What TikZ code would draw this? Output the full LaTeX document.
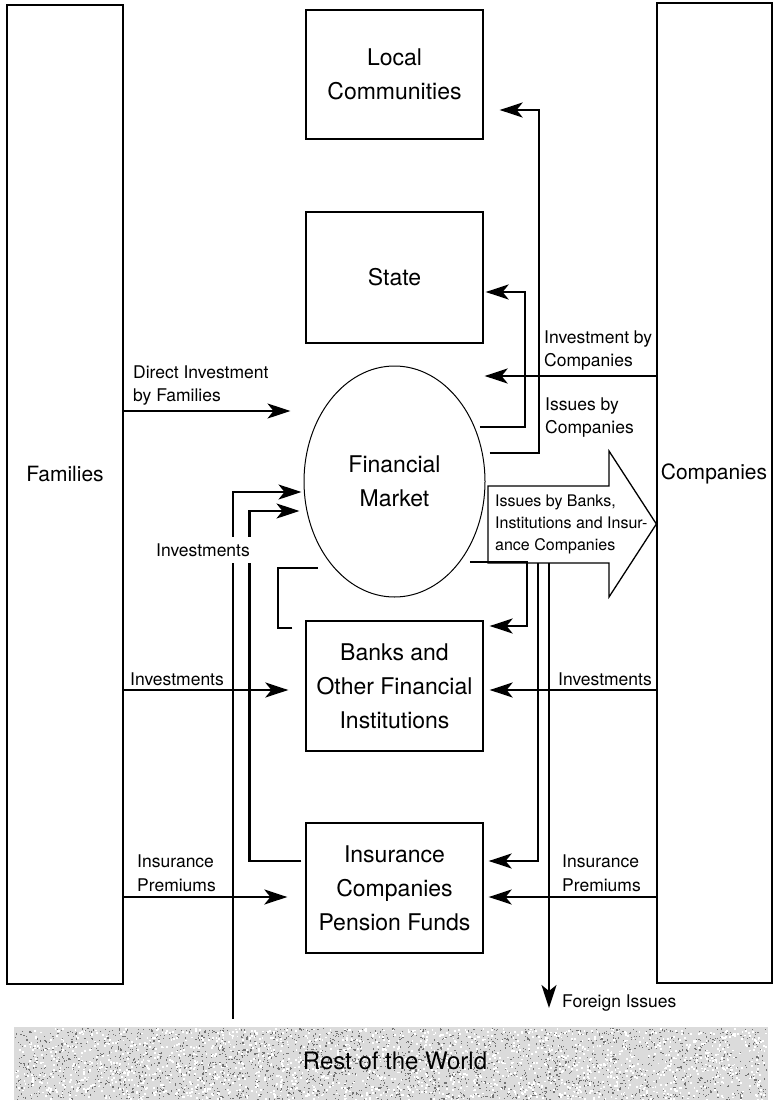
\documentclass[tikz,border=0pt]{standalone}
\usepackage{fontspec}
\setmainfont{TeX Gyre Heros}
\usetikzlibrary{arrows.meta,calc,shapes.geometric}
\newcommand\fBig{\fontsize{23}{34}\selectfont}
\newcommand\fSide{\fontsize{21}{25}\selectfont}
\newcommand\fSmall{\fontsize{17.5}{23.5}\selectfont}
\newcommand\fArr{\fontsize{16}{22}\selectfont}
\newcommand\fRow{\fontsize{24}{28}\selectfont}
\begin{document}
\begin{tikzpicture}[x=1pt,y=-1pt,
  box/.style={draw,line width=1.3pt,minimum width=177pt,minimum height=130pt,inner sep=0pt,align=center,font=\fBig},
  side/.style={draw,line width=1.3pt,inner sep=0pt},
  conn/.style={line width=2.2pt,-{Stealth[length=23pt,width=15pt,inset=6pt]}},
  plain/.style={line width=2.2pt},
  lab/.style={font=\fSmall,align=left,inner sep=0pt},
]
\useasboundingbox (0,0) rectangle (773,1100);

% side blocks
\node[side,minimum width=116pt,minimum height=979pt] (fam) at (65,494.5) {};
\node[font=\fSide] (famt) at (65,474) {Families};
\node[side,minimum width=115pt,minimum height=980pt] (comp) at (714.5,493) {};
\node[font=\fSide] (compt) at (714,474) {Companies};

% central column
\node[box,minimum height=129pt] (lc) at (394.5,74.5) {Local\\Communities};
\node[box,minimum height=131pt] (st) at (394.5,277.5) {State};
\node[draw,ellipse,line width=1pt,minimum width=181pt,minimum height=231pt,inner sep=0pt,align=center,font=\fBig] (fm) at (394.5,481.5) {Financial\\Market};
\node[box] (bk) at (394.5,686) {Banks and\\Other Financial\\Institutions};
\node[box] (ins) at (394.5,888) {Insurance\\Companies\\Pension Funds};

% rest of the world band
\node[fill=black!14,minimum width=754pt,minimum height=73pt,inner sep=0pt] (row) at (391,1063.5) {};
\pgfmathsetseed{7}
\foreach \i in {1,...,2800}{%
  \pgfmathsetmacro\rx{15+751*rnd}%
  \pgfmathsetmacro\ry{1028+71*rnd}%
  \fill[black!55] (\rx,\ry) rectangle ++(1.2,1.2);}
\foreach \i in {1,...,1800}{%
  \pgfmathsetmacro\rx{15+751*rnd}%
  \pgfmathsetmacro\ry{1028+71*rnd}%
  \fill[white] (\rx,\ry) rectangle ++(1.8,1.8);}
\node[font=\fRow,inner sep=0pt] (rowt) at ($(row.center)+(4,-2.5)$) {Rest of the World};

% big arrow (issues by banks etc.)
\coordinate (bab) at (488,563);
\draw[line width=1.3pt] (488,486) -- (609,486) -- (609,451) -- (comp.west |- 0,524) -- (609,597) -- (609,563) -- (bab) -- cycle;
\node[lab,font=\fArr,anchor=west] (bat) at (495,524) {Issues by Banks,\\Institutions and Insur-\\ance Companies};

% connectors from Families
\draw[conn] (fam.east |- 0,411) -- ([xshift=-13pt]fm.west |- 0,411);
\draw[conn] (fam.east |- 0,690) -- ([xshift=-17pt]bk.west |- 0,690);
\draw[conn] (fam.east |- 0,897) -- ([xshift=-18pt]ins.west |- 0,897);

% connectors from Companies
\draw[conn] (comp.west |- 0,376) -- ([xshift=1pt]st.east |- 0,376);
\draw[conn] (comp.west |- 0,690) -- ([xshift=6pt]bk.east |- 0,690);
\draw[conn] (comp.west |- 0,897) -- ([xshift=5pt]ins.east |- 0,897);

% financial market to state and local communities
\draw[conn] ($(fm.34)+(5,0)$) -| ($(st.east)+(41,14.5)$) -- ($(st.east)+(2,14.5)$);
\draw[conn] ($(fm.18.6)+(7,0)$) -| ($(lc.east)+(55,35.5)$) -- ($(lc.east)+(16,35.5)$);

% financial market to banks
\draw[conn] ($(fm.-51.8)+(10,0)$) -| ($(bk.east)+(43,-60)$) -- ($(bk.east)+(6,-60)$);

% big arrow to insurance and foreign issues
\draw[conn] ($(bab)+(50,0)$) |- ($(ins.east)+(5,-27)$);
\coordinate (fe) at (549,1008);
\draw[conn] ($(bab)+(61,0)$) -- (fe);

% left side lines into financial market
\draw[conn] ($(row.north west)+(219,-8)$) |- ($(fm.west)+(-2,10.5)$);
\draw[conn] ($(ins.west)+(-4,-27)$) -| ($(fm.west)+(-54,29.5)$) -- ($(fm.west)+(-4,29.5)$);
\draw[plain] ($(bk.west)+(-13,-58)$) -| ($(fm.-125.4)+(-55.7,0)$) -- ($(fm.-125.4)+(-15.7,0)$);

% labels
\node[lab,anchor=west] (l1) at (133,385.5) {Direct Investment\\by Families};
\node[lab,anchor=west] (l2) at (544,350.5) {Investment by\\Companies};
\node[lab,anchor=west] (l3) at (545,417.5) {Issues by\\Companies};
\node[lab,fill=white,inner xsep=1pt,inner ysep=6pt] (l4) at (203,550) {Investments};
\node[lab,anchor=west] (l5) at (130,679) {Investments};
\node[lab,anchor=east] (l6) at (652,679) {Investments};
\node[lab,anchor=west] (l7) at (137,873) {Insurance\\Premiums};
\node[lab,anchor=west] (l8) at (562,873) {Insurance\\Premiums};
\node[lab,anchor=west] (l9) at (562,1003) {Foreign Issues};
\end{tikzpicture}
\end{document}
